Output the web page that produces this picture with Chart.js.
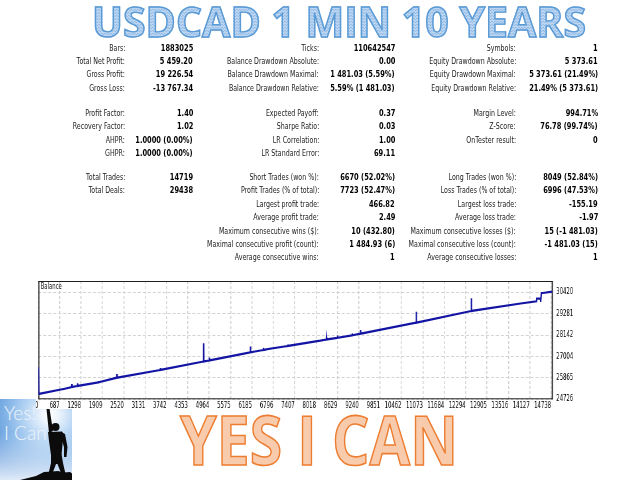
<!DOCTYPE html>
<html><head><meta charset="utf-8">
<script src="https://cdn.jsdelivr.net/npm/chart.js@4.4.1/dist/chart.umd.min.js"></script>
<style>
html,body{margin:0;padding:0;background:#fff;}
#page{position:relative;width:640px;height:480px;overflow:hidden;background:#fff;}
.cell{position:absolute;white-space:nowrap;font-family:"DejaVu Sans";font-size:9.5px;line-height:12px;color:#1a1a1a;transform-origin:100% 50%;}
.val{font-weight:bold;color:#000;}
#title{position:absolute;left:92px;top:1px;font-family:"Open Sans";font-weight:bold;font-size:41px;line-height:41px;white-space:nowrap;transform-origin:0 0;
 background:repeating-conic-gradient(#93bbe6 0 25%,#bcd6f2 0 50%) 0 0/3px 3px;-webkit-background-clip:text;background-clip:text;color:transparent;}
#slogan{position:absolute;left:180px;top:405px;font-family:"Open Sans";font-weight:bold;font-size:68.6px;line-height:68.6px;white-space:nowrap;transform-origin:0 0;color:#f8cbad;-webkit-text-stroke:1.6px #ed7d31;}
#logo{position:absolute;left:0;top:399px;width:72px;height:81px;overflow:hidden;
 background:linear-gradient(to bottom,rgba(255,255,255,0) 40%,rgba(240,246,253,0.9) 100%),radial-gradient(circle at 50px 16px,#ffffff 0,#eef5fd 10%,#b8d6f4 30%,#80b2e6 55%,#4b88d4 85%,#3f7cc8 100%);}
#logo span{position:absolute;font-family:Lato;font-weight:300;font-size:19px;line-height:19px;color:#eef4fb;white-space:nowrap;}
#logo svg{position:absolute;left:0;top:0;}
#chartBox{position:absolute;left:36px;top:276px;width:564px;height:133px;background:#fff;}
#chartInner{position:absolute;left:0;top:0;height:133px;transform-origin:0 0;}
#balLbl{position:absolute;top:5.5px;font-family:"DejaVu Sans";font-size:8px;line-height:10px;color:#111;white-space:nowrap;}
</style></head><body>
<div id="page">
 <div id="logo">
  <span style="left:4px;top:4.4px">Yes!</span>
  <span style="left:4px;top:24.4px">I Can</span>
  <svg width="72" height="81" viewBox="0 0 72 81">
   <g fill="#0b0b0b" transform="translate(-3,0)">
    <circle cx="58.5" cy="28" r="4"/>
    <polygon points="49.5,10 52.5,9.5 56,32 52,34"/>
    <polygon points="51,33 65,32.5 66.5,35 64.5,56 54,56 52,42"/>
    <polygon points="64,33 68,35 70.5,48 69.5,58 67,58 67,48 64.5,40"/>
    <polygon points="54,55 64.5,55 66,64 69,77 65.5,78 60.5,65 59,65 54.5,77 51,77 54,64"/>
   </g>
   <path fill="#0b0b0b" d="M20,81 L28,79 L36,77 L44,73 L52,72.5 L58,72 L64,73.5 L70,73 L72,74.5 L72,81 Z"/>
  </svg>
 </div>
 <div id="title">USDCAD 1 MIN 10 YEARS</div>
 <div id="stats"></div>
 <div id="chartBox"><div id="chartInner"><canvas id="c"></canvas><span id="balLbl">Balance</span></div></div>
 <div id="slogan">YES I CAN</div>
</div>
<script>
// ---- chart data ----
const xTickLabels = ['0','687','1298','1909','2520','3131','3742','4353','4964','5575','6185','6796','7407','8018','8629','9240','9851','10462','11073','11684','12294','12905','13516','14127','14738'];
const yTickValues = [24726, 25865, 27004, 28142, 29281, 30420];
const tradeNo = [0, 8, 16, 719, 725, 731, 961, 966, 971, 1122, 1127, 1132, 1727, 1732, 1737, 2256, 2261, 2266, 3502, 3507, 3512, 4748, 4753, 4758, 4912, 4917, 4922, 6092, 6097, 6102, 6466, 6471, 6476, 6590, 6595, 6600, 7165, 7170, 7175, 8106, 8279, 8284, 8289, 8595, 8600, 8605, 9018, 9023, 9028, 9257, 9262, 9267, 10860, 10865, 10870, 12443, 12448, 12453, 13861, 14322, 14327, 14437, 14440, 14457, 14460, 14503, 14774];
const balance = [25000, 26429, 25010, 25274, 25327, 25276, 25381, 25540, 25384, 25434, 25577, 25437, 25631, 25700, 25634, 25875, 26072, 25878, 26285, 26392, 26288, 26737, 27706, 26740, 26791, 26950, 26794, 27227, 27536, 27230, 27350, 27456, 27353, 27392, 27460, 27395, 27562, 27642, 27565, 27844, 27908, 28015, 27911, 27999, 28121, 28002, 28132, 28228, 28135, 28217, 28414, 28220, 28802, 29388, 28805, 29425, 30101, 29428, 29824, 29941, 30079, 30079, 29904, 29904, 30383, 30383, 30459];

// ---- report table text ----
const statsGroup1 = [
 ['Bars:', '1883025', 'Ticks:', '110642547', 'Symbols:', '1'],
 ['Total Net Profit:', '5 459.20', 'Balance Drawdown Absolute:', '0.00', 'Equity Drawdown Absolute:', '5 373.61'],
 ['Gross Profit:', '19 226.54', 'Balance Drawdown Maximal:', '1 481.03 (5.59%)', 'Equity Drawdown Maximal:', '5 373.61 (21.49%)'],
 ['Gross Loss:', '-13 767.34', 'Balance Drawdown Relative:', '5.59% (1 481.03)', 'Equity Drawdown Relative:', '21.49% (5 373.61)']
];
const statsGroup2 = [
 ['Profit Factor:', '1.40', 'Expected Payoff:', '0.37', 'Margin Level:', '994.71%'],
 ['Recovery Factor:', '1.02', 'Sharpe Ratio:', '0.03', 'Z-Score:', '76.78 (99.74%)'],
 ['AHPR:', '1.0000 (0.00%)', 'LR Correlation:', '1.00', 'OnTester result:', '0'],
 ['GHPR:', '1.0000 (0.00%)', 'LR Standard Error:', '69.11', '', '']
];
const statsGroup3 = [
 ['Total Trades:', '14719', 'Short Trades (won %):', '6670 (52.02%)', 'Long Trades (won %):', '8049 (52.84%)'],
 ['Total Deals:', '29438', 'Profit Trades (% of total):', '7723 (52.47%)', 'Loss Trades (% of total):', '6996 (47.53%)'],
 ['', '', 'Largest profit trade:', '466.82', 'Largest loss trade:', '-155.19'],
 ['', '', 'Average profit trade:', '2.49', 'Average loss trade:', '-1.97'],
 ['', '', 'Maximum consecutive wins ($):', '10 (432.80)', 'Maximum consecutive losses ($):', '15 (-1 481.03)'],
 ['', '', 'Maximal consecutive profit (count):', '1 484.93 (6)', 'Maximal consecutive loss (count):', '-1 481.03 (15)'],
 ['', '', 'Average consecutive wins:', '1', 'Average consecutive losses:', '1']
];

// ---- layout ----
const mctx = document.createElement('canvas').getContext('2d');
function textW(font, s){ mctx.font = font; return mctx.measureText(s).width; }
const fL = 90 / textW('9.5px "DejaVu Sans"', 'Balance Drawdown Relative:');
const fV = 69 / textW('bold 9.5px "DejaVu Sans"', '5 373.61 (21.49%)');

const titleEl = document.getElementById('title');
titleEl.style.webkitTextStroke = '1.4px #5b9bd5';
titleEl.style.transform = 'scaleX(' + (494 / textW('bold 41px "Open Sans"', 'USDCAD 1 MIN 10 YEARS')) + ')';
const sloganEl = document.getElementById('slogan');
sloganEl.style.transform = 'scaleX(' + (278 / textW('bold 68.6px "Open Sans"', 'YES I CAN')) + ')';

const colRight = [125, 193, 319, 395, 516, 598];
const statsEl = document.getElementById('stats');
function placeGroup(rows, y0){
  rows.forEach((r, k) => {
    const yc = y0 + k * 13.4;
    r.forEach((t, j) => {
      if (!t) return;
      const d = document.createElement('div');
      d.className = 'cell' + (j % 2 ? ' val' : '');
      d.textContent = t;
      d.style.right = (640 - colRight[j]) + 'px';
      d.style.top = (yc - 6) + 'px';
      d.style.transform = 'scaleX(' + (j % 2 ? fV : fL) + ')';
      statsEl.appendChild(d);
    });
  });
}
placeGroup(statsGroup1, 47.5);
placeGroup(statsGroup2, 113);
placeGroup(statsGroup3, 177);

// chart box is horizontally condensed like the report screenshot
const inner = document.getElementById('chartInner');
inner.style.width = (564 / fL) + 'px';
inner.style.transform = 'scaleX(' + fL + ')';
document.getElementById('balLbl').style.left = (4.7 / fL) + 'px';

const xStep = 14738 / 24;
const framePlugin = {
  id: 'frame',
  beforeDatasetsDraw(chart){
    const {ctx, chartArea: a} = chart;
    ctx.save();
    ctx.strokeStyle = '#1e1e1e';
    ctx.lineWidth = 1;
    ctx.beginPath();
    ctx.moveTo(a.left, a.top + 0.5); ctx.lineTo(a.right, a.top + 0.5);
    ctx.moveTo(a.left, a.bottom - 0.5); ctx.lineTo(a.right, a.bottom - 0.5);
    ctx.stroke();
    ctx.lineWidth = 1.2 / fL;
    ctx.beginPath();
    ctx.moveTo(a.left + 0.6 / fL, a.top); ctx.lineTo(a.left + 0.6 / fL, a.bottom);
    ctx.moveTo(a.right - 0.6 / fL, a.top); ctx.lineTo(a.right - 0.6 / fL, a.bottom);
    ctx.stroke();
    ctx.restore();
  }
};
function noPad(s){ s.paddingTop = 0; s.paddingBottom = 0; s.paddingLeft = 0; s.paddingRight = 0; }

new Chart(document.getElementById('c'), {
  type: 'line',
  data: { datasets: [{
    label: 'Balance',
    data: tradeNo.map((x, i) => ({x: x, y: balance[i]})),
    borderColor: '#1414a4', borderWidth: 2.2, pointRadius: 0, tension: 0, fill: false
  }]},
  options: {
    responsive: true, maintainAspectRatio: false, animation: false,
    layout: { padding: { left: 2.3 / fL, top: 5, right: 0, bottom: 0 } },
    plugins: { legend: {display: false}, tooltip: {enabled: false}, title: {display: false} },
    scales: {
      x: {
        type: 'linear', min: 0, max: 14791,
        afterBuildTicks: s => { s.ticks = xTickLabels.map((_, i) => ({value: i * xStep})); },
        afterFit: s => { s.height = 133 - 5 - 118.3; noPad(s); },
        grid: { color: '#d2d2d2', lineWidth: 1 / fL, drawTicks: false },
        border: { display: false, dash: [3, 2] },
        ticks: { autoSkip: false, maxRotation: 0, minRotation: 0, align: 'end', padding: 1.5, color: '#000',
                 font: { family: 'DejaVu Sans', size: 8 }, callback: (v, i) => xTickLabels[i] }
      },
      y: {
        type: 'linear', position: 'right', min: 24726, max: 31021,
        afterBuildTicks: s => { s.ticks = yTickValues.map(v => ({value: v})); },
        afterFit: s => { s.width = 47.7 / fL; noPad(s); },
        grid: { color: '#d2d2d2', lineWidth: 1, drawTicks: false },
        border: { display: false, dash: [4.5, 3] },
        ticks: { padding: 3.4 / fL, color: '#000', font: { family: 'DejaVu Sans', size: 8 }, callback: v => String(v) }
      }
    }
  },
  plugins: [framePlugin]
});
</script>
</body></html>
